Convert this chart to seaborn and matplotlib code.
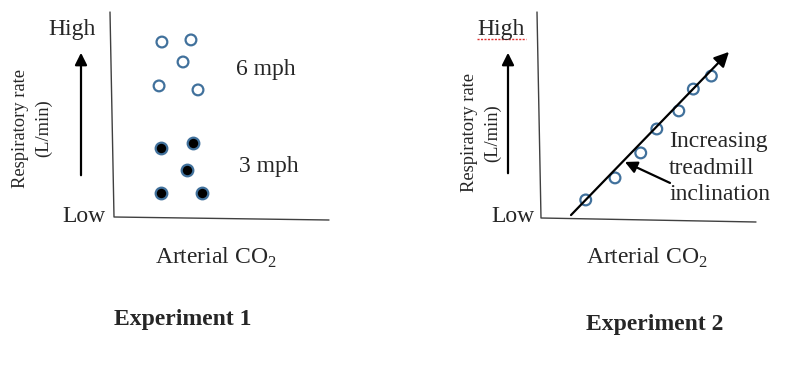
import numpy as np
import matplotlib
matplotlib.use("Agg")
import matplotlib.pyplot as plt
from matplotlib.lines import Line2D
import seaborn as sns

# ── Data (arbitrary units, 0-10 on both axes) ──
exp1_fast_x = [2.36, 3.68, 3.32, 2.23, 4.00]   # 6 mph, open circles
exp1_fast_y = [8.57, 8.67, 7.62, 6.48, 6.29]
exp1_slow_x = [2.32, 3.77, 3.50, 2.32, 4.18]   # 3 mph, filled circles
exp1_slow_y = [3.52, 3.76, 2.48, 1.38, 1.38]

exp2_x = [2.17, 3.50, 4.67, 5.40, 6.40, 7.06, 7.88]
exp2_y = [1.05, 2.10, 3.29, 4.43, 5.29, 6.33, 6.95]
trend_x = [1.50, 8.68]
trend_y = [0.33, 8.10]
note_tail = (6.00, 1.86)
note_head = (3.95, 2.86)

panel_titles = ["Experiment 1", "Experiment 2"]
speed_labels = ["6 mph", "3 mph"]

W, H = 796, 370
BLUE = "#41719C"

sns.set_style("white")
plt.rcParams["font.family"] = ["Liberation Serif", "DejaVu Serif"]
plt.rcParams["mathtext.fontset"] = "custom"
plt.rcParams["mathtext.rm"] = "Liberation Serif"


def fx(x):
    return x / W


def fy(y):
    return 1 - y / H


fig = plt.figure(figsize=(W / 100, H / 100), dpi=100)


def make_axes(left):
    # box 220 x 210 px, top edge at y=12
    ax = fig.add_axes([fx(left), fy(222), 220 / W, 210 / H])
    ax.set_xlim(0, 10)
    ax.set_ylim(0, 10)
    ax.set_axis_off()
    return ax


def frame(top, corner, end):
    # slightly skewed hand-drawn axes
    fig.add_artist(Line2D([fx(top[0]), fx(corner[0]), fx(end[0])],
                          [fy(top[1]), fy(corner[1]), fy(end[1])],
                          color="#404040", lw=1.0))


def y_arrow(x, y0, y1):
    fig.add_artist(matplotlib.patches.FancyArrowPatch(
        (fx(x), fy(y0)), (fx(x), fy(y1)), transform=fig.transFigure,
        arrowstyle="-|>", mutation_scale=18, lw=1.6, color="black"))


# ── Experiment 1 ──
ax1 = make_axes(110)
sns.scatterplot(x=exp1_fast_x, y=exp1_fast_y, ax=ax1, s=60, marker="o",
                facecolor="none", edgecolor=BLUE, linewidth=1.6)
sns.scatterplot(x=exp1_slow_x, y=exp1_slow_y, ax=ax1, s=70, marker="o",
                facecolor="black", edgecolor=BLUE, linewidth=1.6)
ax1.set_axis_off()
frame((110, 12), (114, 217), (329, 220))
y_arrow(81, 178, 50)

fig.text(fx(72), fy(35), "High", fontsize=17, ha="center", va="baseline")
fig.text(fx(84), fy(222), "Low", fontsize=17, ha="center", va="baseline")
fig.text(fx(266), fy(75), speed_labels[0], fontsize=17, ha="center", va="baseline")
fig.text(fx(269), fy(172), speed_labels[1], fontsize=17, ha="center", va="baseline")
fig.text(fx(32), fy(128), "Respiratory rate\n(L/min)", fontsize=13.3,
         rotation=90, ha="center", va="center", linespacing=1.5)
fig.text(fx(216), fy(264), r"Arterial CO$_{\rm 2}$", fontsize=17,
         ha="center", va="baseline")
fig.text(fx(183), fy(325), panel_titles[0], fontsize=17, fontweight="bold",
         ha="center", va="baseline")

# ── Experiment 2 ──
ax2 = make_axes(538)
sns.scatterplot(x=exp2_x, y=exp2_y, ax=ax2, s=60, marker="o",
                facecolor="none", edgecolor=BLUE, linewidth=1.6, zorder=3)
ax2.annotate("", xy=(trend_x[1], trend_y[1]), xytext=(trend_x[0], trend_y[0]),
             arrowprops=dict(arrowstyle="-|>", mutation_scale=22, lw=1.6,
                             color="black", shrinkA=0, shrinkB=0),
             annotation_clip=False)
ax2.annotate("", xy=note_head, xytext=note_tail,
             arrowprops=dict(arrowstyle="-|>", mutation_scale=18, lw=1.6,
                             color="black", shrinkA=0, shrinkB=0),
             annotation_clip=False)
ax2.set_axis_off()
frame((537, 12), (541, 218), (756, 222))
y_arrow(508, 176, 50)

fig.text(fx(501), fy(35), "High", fontsize=17, ha="center", va="baseline")
fig.add_artist(Line2D([fx(477), fx(526)], [fy(39), fy(39)], color="#e03030",
                      lw=1.0, ls=(0, (1.5, 1))))
fig.text(fx(513), fy(222), "Low", fontsize=17, ha="center", va="baseline")
fig.text(fx(481), fy(133), "Respiratory rate\n(L/min)", fontsize=13.3,
         rotation=90, ha="center", va="center", linespacing=1.5)
fig.text(fx(669), fy(200), "Increasing\ntreadmill\ninclination", fontsize=17,
         ha="left", va="baseline", linespacing=1.34)
fig.text(fx(647), fy(264), r"Arterial CO$_{\rm 2}$", fontsize=17,
         ha="center", va="baseline")
fig.text(fx(655), fy(330), panel_titles[1], fontsize=17, fontweight="bold",
         ha="center", va="baseline")

fig.savefig("out.png", dpi=100, facecolor="white")
